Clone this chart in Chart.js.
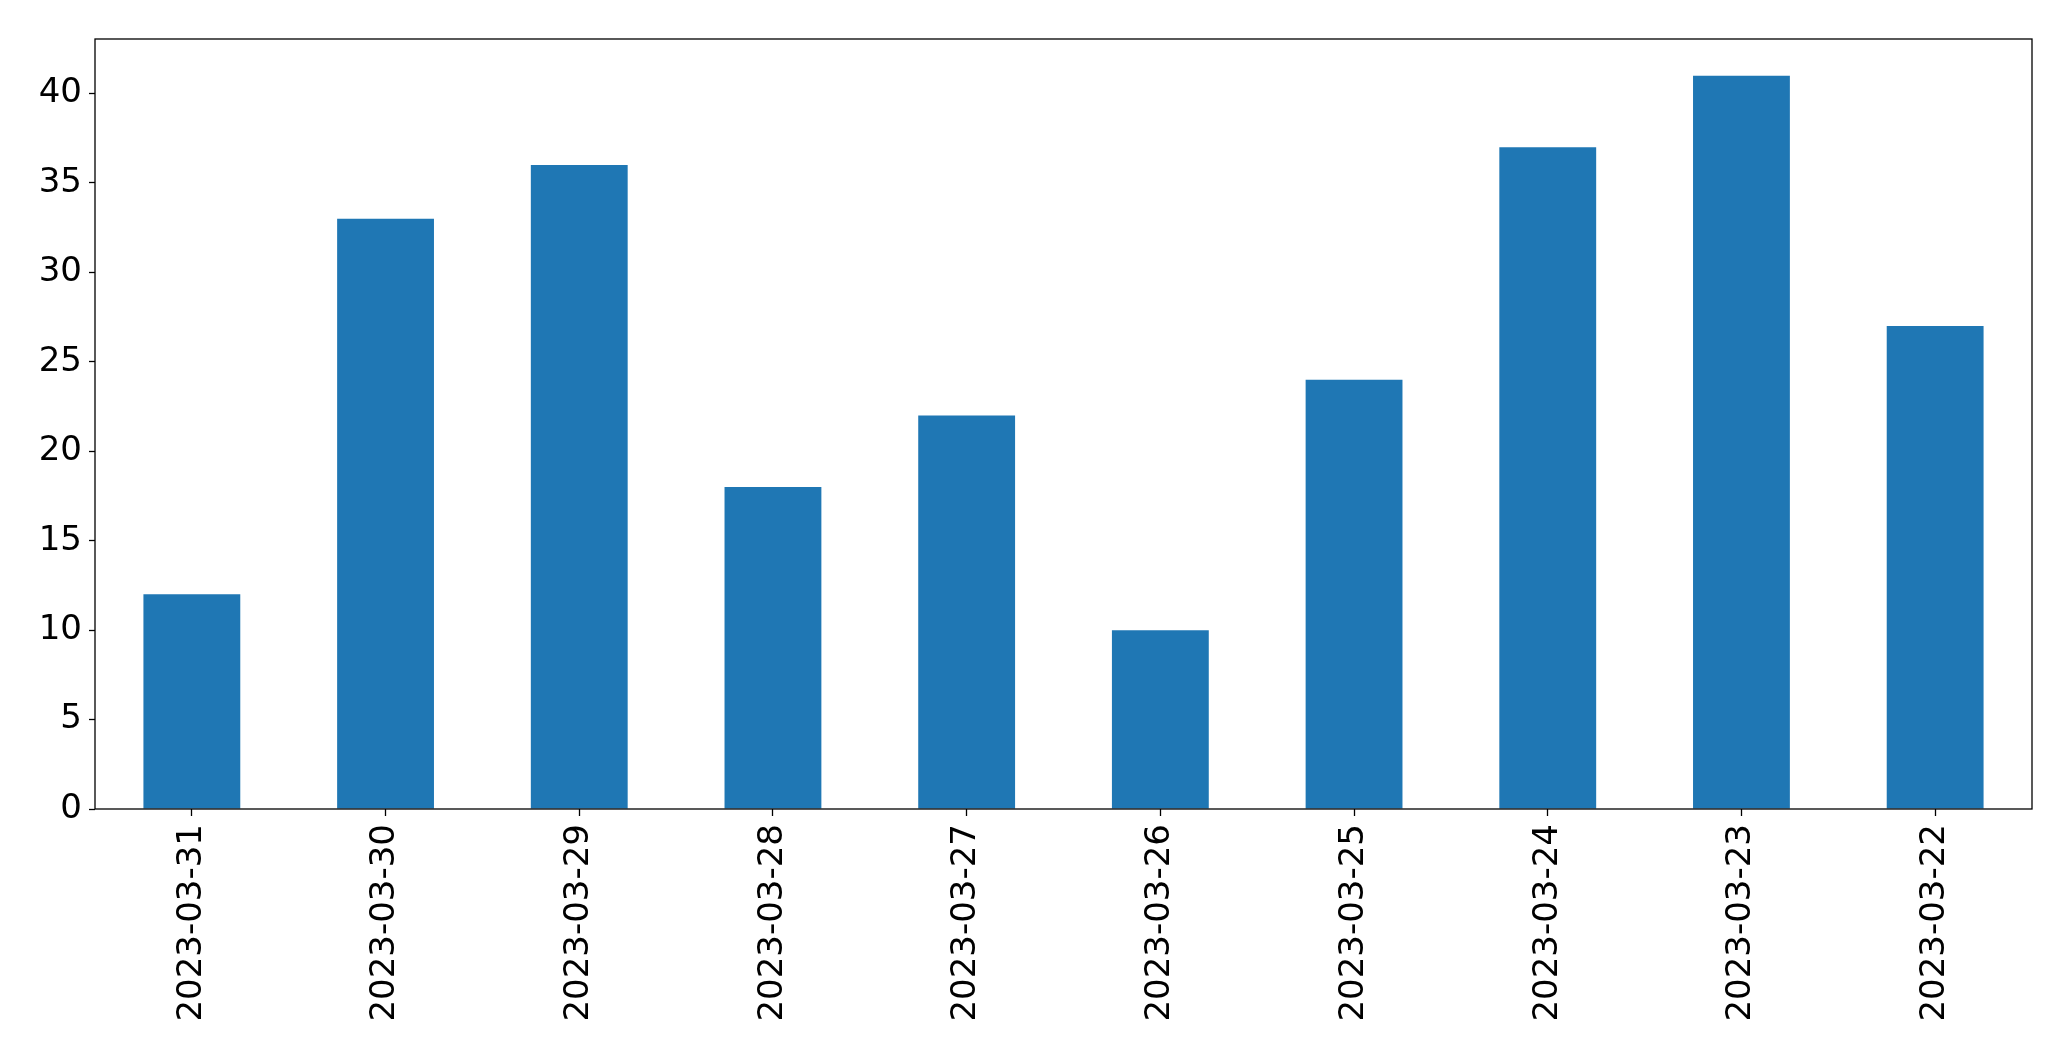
<!DOCTYPE html>
<html>
<head>
<meta charset="utf-8">
<script src="https://cdn.jsdelivr.net/npm/chart.js@4"></script>
<style>
  html, body { margin: 0; padding: 0; background: #fff; }
  #wrap { width: 2071px; height: 1061px; }
</style>
</head>
<body>
<div id="wrap"><canvas id="chart"></canvas></div>
<script>
const dates = ["2023-03-31", "2023-03-30", "2023-03-29", "2023-03-28", "2023-03-27",
               "2023-03-26", "2023-03-25", "2023-03-24", "2023-03-23", "2023-03-22"];
const counts = [12, 33, 36, 18, 22, 10, 24, 37, 41, 27];
const yTicks = [0, 5, 10, 15, 20, 25, 30, 35, 40];

// draws the full box around the plot area, like matplotlib spines
const frame = {
  id: "frame",
  afterDatasetsDraw(chart) {
    const a = chart.chartArea, ctx = chart.ctx;
    ctx.save();
    ctx.strokeStyle = "#000";
    ctx.lineWidth = 1.3;
    ctx.strokeRect(a.left, a.top, a.right - a.left, a.bottom - a.top);
    ctx.restore();
  }
};

Chart.defaults.font.family = "'DejaVu Sans', sans-serif";
Chart.defaults.color = "#000";

new Chart(document.getElementById("chart"), {
  type: "bar",
  data: {
    labels: dates,
    datasets: [{
      data: counts,
      backgroundColor: "#1f77b4",
      categoryPercentage: 1.0,
      barPercentage: 0.5
    }]
  },
  options: {
    responsive: true,
    maintainAspectRatio: false,
    animation: false,
    events: [],
    layout: { padding: { top: 39, right: 39, left: 0, bottom: 0 } },
    plugins: { legend: { display: false }, tooltip: { enabled: false } },
    scales: {
      x: {
        grid: { display: true, offset: false, drawOnChartArea: false, drawTicks: true, tickLength: 7, tickColor: "#000", tickWidth: 1.3 },
        border: { display: false },
        ticks: { font: { size: 34 }, maxRotation: 90, minRotation: 90, padding: 8, autoSkip: false },
        afterFit(s) { s.height = 252; }
      },
      y: {
        min: 0,
        max: 43.05,
        afterBuildTicks(s) { s.ticks = yTicks.map(v => ({ value: v })); },
        grid: { display: true, drawOnChartArea: false, drawTicks: true, tickLength: 6, tickColor: "#000", tickWidth: 1.3 },
        border: { display: false },
        ticks: { font: { size: 34 }, padding: 7 },
        afterFit(s) { s.width = 95; }
      }
    }
  },
  plugins: [frame]
});
</script>
</body>
</html>
